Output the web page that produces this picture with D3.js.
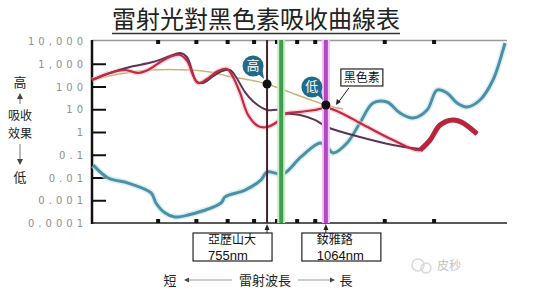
<!DOCTYPE html>
<html>
<head>
<meta charset="utf-8">
<script src="https://cdn.jsdelivr.net/npm/d3@7"></script>
<style>
  body { margin: 0; background: #fff; }
  svg { display: block; font-family: "Noto Sans CJK TC", "Noto Sans", sans-serif; }
</style>
</head>
<body>
<svg id="chart" width="544" height="305"></svg>
<script>
// absorption values [wavelength nm, relative absorption]
const melanin = [[272, 193], [320, 354], [382, 531], [482, 531], [541, 434], [598, 290], [684, 193], [755, 129], [915, 38], [1064, 15.4], [1176, 10.3]];
const oxyHemo = [[272, 193], [302, 392], [330, 531], [356, 392], [377, 531], [405, 1190], [434, 2190], [455, 2430], [476, 1190], [490, 320], [505, 143], [532, 214], [567, 480], [598, 588], [619, 262], [645, 52], [676, 5.6], [716, 1.84], [755, 1.66], [800, 2.75], [839, 6.2], [915, 7.6], [998, 9.3], [1071, 11.4], [1190, 5.6], [1298, 2.5], [1574, 0.44], [1843, 0.16], [1953, 0.44], [2071, 2.03], [2234, 3.4], [2368, 2.5], [2569, 0.82]];
const deoxyHemo = [[272, 193], [302, 392], [339, 720], [388, 1190], [429, 2190], [455, 2970], [473, 1980], [487, 531], [499, 175], [520, 143], [548, 262], [581, 480], [608, 531], [630, 262], [664, 57], [704, 18.8], [755, 9.3], [805, 9.3], [834, 6.8], [915, 5.6], [998, 3.4], [1071, 1.66], [1298, 0.6], [1574, 0.27], [1843, 0.18]];
const water = [[274, 0.035], [299, 0.0095], [336, 0.0057], [384, 0.0021], [395, 0.00076], [416, 0.00028], [441, 0.000184], [476, 0.000225], [577, 0.00076], [591, 0.0014], [664, 0.0028], [729, 0.0078], [755, 0.0175], [829, 0.0143], [920, 0.08], [1028, 0.33], [1071, 0.22], [1109, 0.12], [1204, 0.33], [1298, 2.5], [1401, 18.8], [1520, 20.8], [1640, 6.8], [1769, 4.1], [1920, 9.3], [2035, 70], [2157, 52], [2286, 18.8], [2424, 12.6], [2614, 25.5], [2820, 193], [2990, 4020], [3025, 8160]];

const yTicks = [1e4, 1e3, 1e2, 10, 1, 0.1, 0.01, 0.001, 0.0001];
const yTickLabels = ["10,000", "1,000", "100", "10", "1", "0.1", "0.01", "0.001", "0.0001"];
const xTicks = [400, 500, 600, 700, 800, 900, 1000, 1500, 2000];
const lasers = [755, 820, 1064];
const laserNames = [["亞歷山大", "755nm"], ["釹雅鉻", "1064nm"]];

const svg = d3.select("#chart");
const x = d3.scaleLog().domain([272, 3060]).range([92, 507]);
const y = d3.scaleLog().domain([1e-4, 1e4]).range([223, 41]);

// Title
svg.append("text")
    .attr("x", 256).attr("y", 28)
    .attr("text-anchor", "middle")
    .style("font-size", "24px").style("fill", "#222")
    .text("雷射光對黑色素吸收曲線表");
svg.append("line")
    .attr("x1", 112).attr("x2", 400).attr("y1", 33.5).attr("y2", 33.5)
    .attr("stroke", "#333").attr("stroke-width", 1.5);

// frame
svg.append("line").attr("x1", 92).attr("x2", 507).attr("y1", 40.5).attr("y2", 40.5)
    .attr("stroke", "#999").attr("stroke-width", 1.5);
svg.append("line").attr("x1", 92).attr("x2", 507).attr("y1", 223).attr("y2", 223)
    .attr("stroke", "#222").attr("stroke-width", 1.5);

let yAxis = svg.append("g").attr("transform", "translate(92,0)")
    .call(d3.axisRight(y).tickValues(yTicks.slice(1, -1)).tickSize(14).tickFormat(""));
yAxis.select(".domain").remove();
yAxis.selectAll(".tick line").attr("stroke", "#111").attr("stroke-width", 2);
svg.append("line").attr("x1", 92).attr("x2", 92).attr("y1", 40).attr("y2", 224)
    .attr("stroke", "#111").attr("stroke-width", 2.5);

svg.selectAll(".ylab").data(yTicks).enter().append("text")
    .attr("class", "ylab")
    .attr("x", 87).attr("y", d => y(d) + 4)
    .attr("text-anchor", "end")
    .style("font-family", "DejaVu Sans").style("font-size", "10px")
    .style("letter-spacing", "4px").style("fill", "#8f8f8f")
    .text((d, i) => yTickLabels[i]);

// x tick squares top and bottom
svg.selectAll(".xt-top").data(xTicks).enter().append("rect")
    .attr("x", d => x(d) - 2).attr("y", 40).attr("width", 4).attr("height", 4).attr("fill", "#111");
svg.selectAll(".xt-bot").data(xTicks).enter().append("rect")
    .attr("x", d => x(d) - 2).attr("y", 219).attr("width", 4).attr("height", 4).attr("fill", "#111");

// left side label
const lc = svg.append("g").style("font-size", "13px").style("fill", "#222").attr("text-anchor", "middle");
lc.append("text").attr("x", 20).attr("y", 87).text("高");
lc.append("text").attr("x", 20).attr("y", 120).style("font-size", "12px").text("吸收");
lc.append("text").attr("x", 20).attr("y", 138).style("font-size", "12px").text("效果");
lc.append("text").attr("x", 20).attr("y", 182).text("低");
svg.append("line").attr("x1", 20).attr("x2", 20).attr("y1", 97).attr("y2", 104).attr("stroke", "#777");
svg.append("line").attr("x1", 20).attr("x2", 20).attr("y1", 144).attr("y2", 161).attr("stroke", "#777");
svg.append("path").attr("d", "M17,99 L20,93 L23,99 Z").attr("fill", "#444");
svg.append("path").attr("d", "M17,159 L20,165 L23,159 Z").attr("fill", "#444");

// curves
const line = d3.line().x(d => x(d[0])).y(d => y(d[1])).curve(d3.curveCatmullRom.alpha(0.5));

svg.append("path").datum(water).attr("d", line)
    .attr("fill", "none").attr("stroke", "#bfe6ee").attr("stroke-width", 6).attr("opacity", 0.6);
svg.append("path").datum(water).attr("d", line)
    .attr("fill", "none").attr("stroke", "#4d8fa3").attr("stroke-width", 3);

svg.append("path").datum(melanin).attr("d", line)
    .attr("fill", "none").attr("stroke", "#c9b57a").attr("stroke-width", 1.5);

svg.append("path").datum(oxyHemo).attr("d", line)
    .attr("fill", "none").attr("stroke", "#f3c0c8").attr("stroke-width", 5).attr("opacity", 0.6);
svg.append("path").datum(deoxyHemo).attr("d", line)
    .attr("fill", "none").attr("stroke", "#5e3358").attr("stroke-width", 2);
svg.append("path").datum(oxyHemo).attr("d", line)
    .attr("fill", "none").attr("stroke", "#c22a42").attr("stroke-width", 2.2);
svg.append("path").datum(oxyHemo.filter(d => d[0] >= 1843)).attr("d", line)
    .attr("fill", "none").attr("stroke", "#b8243c").attr("stroke-width", 5);

// laser lines
const laserColors = ["#4a1e28", "#3f9e4a", "#b048c4"];
const laserWidths = [2, 4, 4];
svg.selectAll(".laser-glow").data(lasers.slice(1)).enter().append("line")
    .attr("x1", d => x(d)).attr("x2", d => x(d)).attr("y1", 40).attr("y2", 223)
    .attr("stroke", (d, i) => i === 0 ? "#c9ecc9" : "#f1c8f2").attr("stroke-width", 8);
svg.selectAll(".laser").data(lasers).enter().append("line")
    .attr("x1", d => x(d)).attr("x2", d => x(d)).attr("y1", 40).attr("y2", 223)
    .attr("stroke", (d, i) => laserColors[i]).attr("stroke-width", (d, i) => laserWidths[i]);

// melanin dots + bubbles
const spots = [[755, "高"], [1064, "低"]];
spots.forEach(s => {
    let m = melanin.find(d => d[0] === s[0]);
    let cx = x(m[0]), cy = y(m[1]);
    let bx = cx - 14, by = cy - 18;
    svg.append("path")
        .attr("d", `M${bx + 4},${by + 7} L${cx - 3},${cy - 5} L${bx + 9},${by + 2} Z`)
        .attr("fill", "#1f6b8a");
    svg.append("circle").attr("cx", bx).attr("cy", by).attr("r", 10.5).attr("fill", "#1f6b8a");
    svg.append("text").attr("x", bx).attr("y", by + 4.5).attr("text-anchor", "middle")
        .style("font-size", "13px").style("fill", "#fff").text(s[1]);
    svg.append("circle").attr("cx", cx).attr("cy", cy).attr("r", 4.5).attr("fill", "#111");
});

// 黑色素 label
{
    let m = melanin.find(d => d[0] === 1064);
    let cx = x(m[0]), cy = y(m[1]);
    svg.append("rect").attr("x", cx + 15).attr("y", cy - 36).attr("width", 42).attr("height", 17)
        .attr("fill", "#fff").attr("stroke", "#222").attr("stroke-width", 1.2);
    svg.append("text").attr("x", cx + 36).attr("y", cy - 23).attr("text-anchor", "middle")
        .style("font-size", "12px").style("fill", "#111").text("黑色素");
    svg.append("line").attr("x1", cx + 23).attr("y1", cy - 17).attr("x2", cx + 12).attr("y2", cy - 2)
        .attr("stroke", "#222").attr("stroke-width", 1);
    svg.append("path").attr("d", `M${cx + 10},${cy} L${cx + 11},${cy - 6} L${cx + 15},${cy - 3} Z`).attr("fill", "#222");
}

// laser name boxes
const boxOffsets = [-74, -24];
[755, 1064].forEach((w, i) => {
    let lx = x(w);
    let bx = lx + boxOffsets[i];
    svg.append("path").attr("d", `M${lx - 2.5},${230} L${lx},${224} L${lx + 2.5},${230} Z`).attr("fill", "#222");
    svg.append("line").attr("x1", lx).attr("x2", lx).attr("y1", 228).attr("y2", 233).attr("stroke", "#222");
    svg.append("rect").attr("x", bx).attr("y", 233).attr("width", 79).attr("height", 28)
        .attr("fill", "#fff").attr("stroke", "#222").attr("stroke-width", 1.2);
    svg.append("text").attr("x", bx + 15).attr("y", 244).style("fill", "#111")
        .style("font-size", "12px").text(laserNames[i][0]);
    svg.append("text").attr("x", bx + 15).attr("y", 259.5).style("fill", "#111")
        .style("font-family", "Liberation Sans").style("font-size", "13px").text(laserNames[i][1]);
});

// bottom wavelength label
svg.append("line").attr("x1", 186).attr("x2", 232).attr("y1", 280).attr("y2", 280).attr("stroke", "#999");
svg.append("line").attr("x1", 298).attr("x2", 332).attr("y1", 280).attr("y2", 280).attr("stroke", "#999");
svg.append("path").attr("d", "M184,280 L189,277.5 L189,282.5 Z").attr("fill", "#444");
svg.append("path").attr("d", "M335,280 L330,277.5 L330,282.5 Z").attr("fill", "#444");
const bl = svg.append("g").style("font-size", "13px").style("fill", "#222").attr("text-anchor", "middle");
bl.append("text").attr("x", 170).attr("y", 285).text("短");
bl.append("text").attr("x", 265).attr("y", 285).text("雷射波長");
bl.append("text").attr("x", 346).attr("y", 285).text("長");

// faint watermark
svg.append("circle").attr("cx", 418).attr("cy", 265).attr("r", 6).attr("fill", "none").attr("stroke", "#d8d8d8").attr("stroke-width", 1.5);
svg.append("circle").attr("cx", 426).attr("cy", 268).attr("r", 5).attr("fill", "none").attr("stroke", "#d8d8d8").attr("stroke-width", 1.5);
svg.append("text").attr("x", 437).attr("y", 270).style("font-size", "12px").style("fill", "#c4c4c4").text("皮秒");
</script>
</body>
</html>
